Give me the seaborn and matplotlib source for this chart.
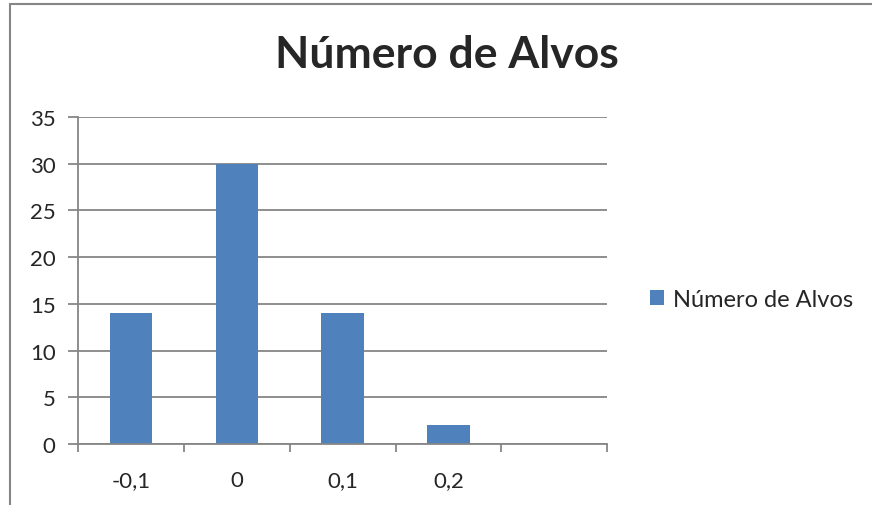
import matplotlib
matplotlib.use('Agg')
import matplotlib.pyplot as plt
import seaborn as sns
from matplotlib.lines import Line2D
from matplotlib.ticker import FixedLocator, MultipleLocator

# Dados do gráfico
categorias = ['-0,1', '0', '0,1', '0,2']
valores = [14, 30, 14, 2]
n_posicoes = 5  # o eixo tem uma quinta posição vazia
titulo = 'Número de Alvos'
serie = 'Número de Alvos'

sns.set_style('white')
plt.rcParams['font.family'] = ['Lato', 'DejaVu Sans']

cinza = '#868686'
azul = '#4F81BD'

fig = plt.figure(figsize=(8.72, 5.06), dpi=100)
ax = fig.add_axes([0.0894, 0.1206, 0.607, 0.646])

sns.barplot(x=categorias, y=valores, color=azul, width=0.4,
            saturation=1, label=serie, linewidth=0, ax=ax)

ax.set_xlim(-0.5, n_posicoes - 0.5)
ax.set_ylim(0, 35)
ax.yaxis.set_major_locator(MultipleLocator(5))

# grade horizontal
ax.grid(axis='y', color=cinza, linewidth=1.3)
ax.set_axisbelow(True)
for lado in ['top', 'right']:
    ax.spines[lado].set_visible(False)
for lado in ['left', 'bottom']:
    ax.spines[lado].set_color(cinza)
    ax.spines[lado].set_linewidth(1.3)

# marcas do eixo x entre as categorias, rótulos no centro
ax.xaxis.set_major_locator(FixedLocator([i - 0.5 for i in range(n_posicoes + 1)]))
ax.xaxis.set_minor_locator(FixedLocator(list(range(len(categorias)))))
ax.set_xticklabels([''] * (n_posicoes + 1))
ax.set_xticklabels(categorias, minor=True)
ax.tick_params(axis='x', which='major', bottom=True, length=6, width=1.3, color=cinza)
ax.tick_params(axis='x', which='minor', bottom=True, length=0, pad=19, labelsize=16)
ax.tick_params(axis='y', left=True, length=7, width=1.3, color=cinza, pad=9, labelsize=16)
ax.set_xlabel('')
ax.set_ylabel('')

fig.text(0.513, 0.891, titulo, ha='center', va='center',
         fontsize=32, fontweight='bold')

ax.legend(loc='center left', bbox_to_anchor=(0.745, 0.407), bbox_transform=fig.transFigure,
          frameon=False, fontsize=17, handlelength=0.6, handleheight=0.6,
          handletextpad=0.4, borderaxespad=0, borderpad=0)

# borda do gráfico (esquerda e topo)
fig.add_artist(Line2D([10 / 872, 10 / 872], [0, 1 - 5 / 506], color=cinza, linewidth=1.5,
                      transform=fig.transFigure))
fig.add_artist(Line2D([10 / 872, 1], [1 - 5 / 506, 1 - 5 / 506], color=cinza, linewidth=1.5,
                      transform=fig.transFigure))

fig.savefig('out.png', dpi=100)
plt.close(fig)
